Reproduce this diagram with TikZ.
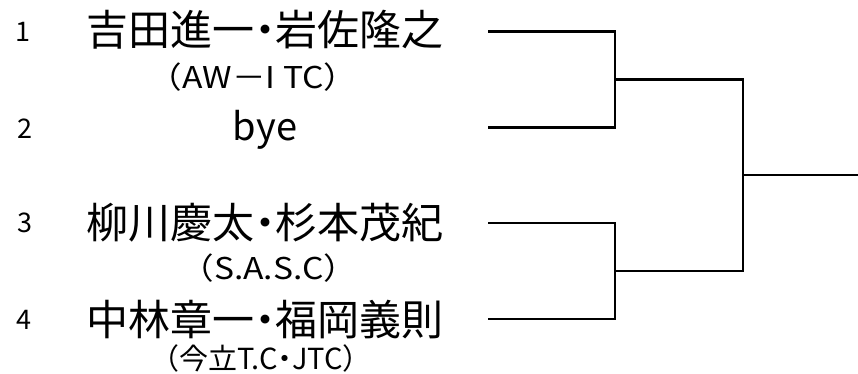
\documentclass[tikz,border=0pt]{standalone}
\usepackage{fontspec}
\setmainfont{Noto Sans CJK JP}
\newfontfamily\namefont{Noto Sans CJK JP}[CharacterWidth=AlternateProportional]
\newfontfamily\widefont{Noto Sans CJK JP}[FakeStretch=1.12]

\begin{document}
\begin{tikzpicture}[x=1pt, y=-1pt, line width=2.3pt,
    every node/.style={inner sep=0pt, outer sep=0pt},
    seed/.style={font=\fontsize{27}{27}\selectfont},
    pair/.style={font=\namefont\fontsize{42}{42}\selectfont},
    club/.style={font=\widefont\fontsize{30}{30}\selectfont},
    clubjp/.style={font=\fontsize{29}{29}\selectfont}]
    \useasboundingbox (0,0) rectangle (858,374);
    % players
    \node[seed] (s1) at (23,32) {1};
    \node[seed] (s2) at (25,129) {2};
    \node[seed] (s3) at (25,223) {3};
    \node[seed] (s4) at (24,320) {4};
    \node[pair] (p1) at (265,30) {吉田進一・岩佐隆之};
    \node[club] (c1) at (253,77) {（AW－I TC）};
    \node[font=\fontsize{38}{38}\selectfont] (p2) at (265,130) {bye};
    \node[pair] (p3) at (265,223) {柳川慶太・杉本茂紀};
    \node[club] (c3) at (269,268) {（S.A.S.C）};
    \node[pair] (p4) at (265,320) {中林章一・福岡義則};
    \node[clubjp] (c4) at (261,358) {（今立T.C{\namefont・}JTC）};
    % bracket
    \coordinate (e1) at (488,31.5);
    \coordinate (e2) at (488,127.5);
    \coordinate (e3) at (488,223.3);
    \coordinate (e4) at (488,319.3);
    \coordinate (m1) at (615,79.5);
    \coordinate (m2) at (615,271.3);
    \coordinate (f) at (743,175.3);
    \coordinate (w) at (858,175.3);
    \draw (e1) -| (m1) |- (e2);
    \draw (e3) -| (m2) |- (e4);
    \draw (m1) -| (f) |- (m2);
    \draw (f) -- (w);
\end{tikzpicture}
\end{document}
